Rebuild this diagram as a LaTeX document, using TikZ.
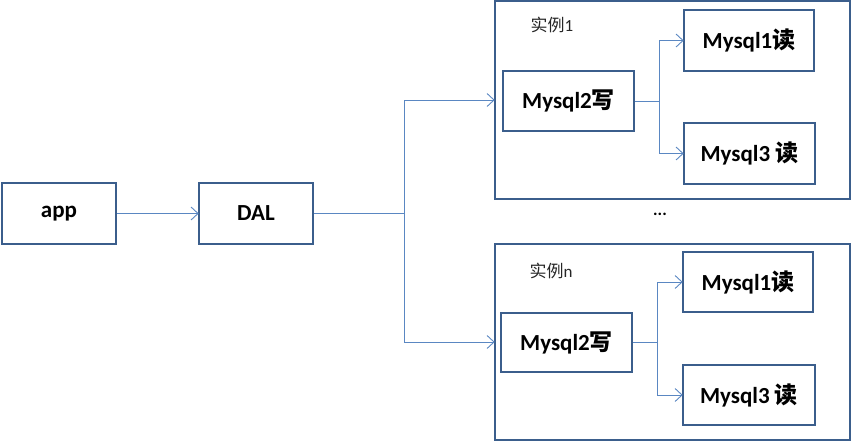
\documentclass[tikz,border=0pt]{standalone}
\usepackage{fontspec}
\setmainfont{Carlito}
\newfontfamily\cjk{Noto Sans CJK SC}
\usetikzlibrary{arrows.meta,positioning}
\definecolor{boxblue}{HTML}{3B5E8C}
\definecolor{lineblue}{HTML}{5A87C2}

\begin{document}
\begin{tikzpicture}[x=1pt,y=-1pt,
    box/.style={rectangle,draw=boxblue,line width=2.6pt,fill=white,inner sep=0pt,font=\bfseries\fontsize{23}{26}\selectfont},
    group/.style={rectangle,draw=boxblue,line width=2.6pt,inner sep=0pt},
    tag/.style={font=\fontsize{17}{20}\selectfont,text=black!85},
    link/.style={draw=lineblue,line width=0.9pt},
    flow/.style={link,-{Straight Barb[length=7pt,width=13pt,line width=0.9pt]},shorten >=-1pt}
]
    \useasboundingbox (0,0) rectangle (852,442);

    % app and data access layer
    \node[box,minimum width=114pt,minimum height=61pt] (app) at (59,213.5) {app};
    \node[box,minimum width=114pt,minimum height=61pt] (dal) at (256,213.5) {DAL};
    \coordinate (fork) at (404,213.5);

    % instance 1
    \node[group,minimum width=355pt,minimum height=198pt] (inst1) at (672.5,100) {};
    \node[tag] (tag1) at (552,25) {{\cjk 实例}1};
    \node[box,minimum width=131pt,minimum height=60pt] (write1) at (568.5,101) {Mysql2{\cjk 写}};
    \node[box,minimum width=130pt,minimum height=61pt] (readA1) at (749,40.5) {Mysql1{\cjk 读}};
    \node[box,minimum width=131pt,minimum height=61pt] (readB1) at (749.5,153.5) {Mysql3 {\cjk 读}};
    \coordinate (fork1) at (659,101);

    \node[font=\bfseries\fontsize{17}{20}\selectfont] (dots) at (660,214) {...};

    % instance n
    \node[group,minimum width=355pt,minimum height=196pt] (instn) at (672.5,342) {};
    \node[tag] (tagn) at (551,271) {{\cjk 实例}n};
    \node[box,minimum width=131pt,minimum height=59pt] (writen) at (566.5,342.5) {Mysql2{\cjk 写}};
    \node[box,minimum width=130pt,minimum height=60pt] (readAn) at (748,282) {Mysql1{\cjk 读}};
    \node[box,minimum width=132pt,minimum height=60pt] (readBn) at (749,395) {Mysql3 {\cjk 读}};
    \coordinate (forkn) at (657,342.5);

    % connectors
    \draw[flow] (app) -- (dal);
    \draw[link] (dal.east) -- (fork);
    \draw[flow] (fork) |- (inst1.west);
    \draw[flow] (fork) |- (instn.west);

    \draw[link] (write1.east) -- (fork1);
    \draw[flow] (fork1) |- (readA1.west);
    \draw[flow] (fork1) |- (readB1.west);

    \draw[link] (writen.east) -- (forkn);
    \draw[flow] (forkn) |- (readAn.west);
    \draw[flow] (forkn) |- (readBn.west);
\end{tikzpicture}
\end{document}
